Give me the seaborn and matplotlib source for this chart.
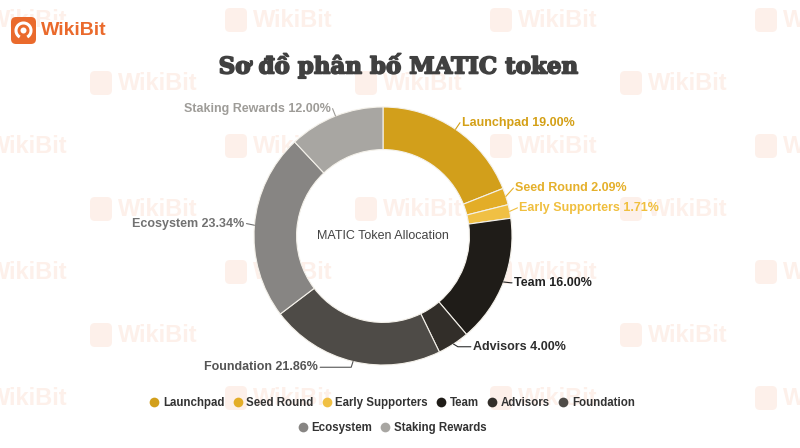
import numpy as np
import matplotlib
matplotlib.use("Agg")
import matplotlib.pyplot as plt
import matplotlib.patheffects as pe
import seaborn as sns
from matplotlib.patches import FancyBboxPatch, Arc, Circle
from matplotlib.lines import Line2D

# ---- data ----
categories = ["Launchpad", "Seed Round", "Early Supporters", "Team", "Advisors",
              "Foundation", "Ecosystem", "Staking Rewards"]
shares = [19.00, 2.09, 1.71, 16.00, 4.00, 21.86, 23.34, 12.00]
slice_colors = ["#d29f1b", "#e3ad27", "#f0c044", "#1f1c18", "#322e29",
                "#4e4b47", "#878583", "#a8a6a2"]
label_colors = ["#d4a017", "#e5b02b", "#f0bf3e", "#222222", "#2e2e2e",
                "#555555", "#727272", "#9e9c98"]
title = "Sơ đồ phân bố MATIC token"
center_label = "MATIC Token Allocation"
brand = "WikiBit"

sns.set_theme(style="white")
plt.rcParams["font.family"] = ["Liberation Sans", "DejaVu Sans"]

W, H = 800, 448
fig = plt.figure(figsize=(8, 4.48), dpi=100)
fig.patch.set_facecolor("white")
ax = fig.add_axes([0, 0, 1, 1])

# ---- faint watermark in the background ----
for r, yy in enumerate(range(20, H + 60, 63)):
    off = (r % 2) * 130 - 40
    for xx in range(off, W + 150, 265):
        ax.add_patch(FancyBboxPatch((xx, H - yy - 12), 22, 24,
                                    boxstyle="round,pad=0,rounding_size=5",
                                    fc="#fdf0ea", ec="none", zorder=0))
        ax.text(xx + 28, H - yy, brand, fontsize=17, color="#fdf0ea",
                va="center", ha="left", zorder=0, fontweight="bold")

# ---- logo ----
ax.add_patch(FancyBboxPatch((11, H - 44), 25, 27,
                            boxstyle="round,pad=0,rounding_size=5",
                            fc="#ea6a2c", ec="none", zorder=3))
ax.add_patch(Arc((23.5, H - 30.5), 15, 15, theta1=-60, theta2=240,
                 color="white", lw=2.2, zorder=4))
ax.add_patch(Circle((23.5, H - 30.5), 3, fc="white", ec="none", zorder=4))
ax.add_patch(FancyBboxPatch((40, H - 40), 80, 20,
                            boxstyle="round,pad=0,rounding_size=2",
                            fc="white", ec="none", zorder=3))
ax.text(41, H - 30, brand, fontsize=14, color="#ea6a2c", fontweight="bold",
        ha="left", va="center", zorder=4)

# ---- title ----
ax.text(398, H - 66, title, fontsize=16.5, fontweight="heavy", color="#404040",
        ha="center", va="center", family=["DejaVu Serif"], zorder=5,
        path_effects=[pe.withStroke(linewidth=1.2, foreground="#404040")])

# ---- donut ----
cx, cy, R = 383, H - 236, 129
wedges, _ = ax.pie(shares, colors=slice_colors, startangle=90, counterclock=False,
                   center=(cx, cy), radius=R, frame=True,
                   wedgeprops=dict(width=R * 0.33, edgecolor="#f4f1ea", linewidth=0.8))
for w in wedges:
    w.set_zorder(5)
ax.set_xlim(0, W)
ax.set_ylim(0, H)
ax.set_aspect("equal")
ax.axis("off")

ax.text(cx, cy, center_label, fontsize=9, color="#444444",
        ha="center", va="center", zorder=6)

# ---- labels with leader lines (leg length, vertical nudge per label) ----
legs = [0, 0, 0, 1, 13, 31, 0, 0]
nudges = [0, 6, 2, 2, 4, 2, 1, 0]
for w, cat, val, lc, leg, dy in zip(wedges, categories, shares, label_colors, legs, nudges):
    mid = np.deg2rad((w.theta1 + w.theta2) / 2)
    c, s = np.cos(mid), np.sin(mid)
    p0 = (cx + R * c, cy + R * s)
    p1 = (cx + (R + 8) * c, cy + (R + 8) * s + dy)
    sign = 1 if c >= 0 else -1
    p2 = (p1[0] + sign * leg, p1[1])
    ax.add_line(Line2D([p0[0], p1[0], p2[0]], [p0[1], p1[1], p2[1]],
                       color=lc, lw=0.8, zorder=6))
    ax.text(p2[0] + sign * 2, p2[1], f"{cat} {val:.2f}%", fontsize=9,
            fontweight="bold", color=lc, ha="left" if sign > 0 else "right",
            va="center", zorder=6)

# ---- legend ----
handles = [Line2D([], [], marker="o", ls="none", markersize=7,
                  markerfacecolor=col, markeredgecolor="none") for col in slice_colors]
kw = dict(frameon=False, handletextpad=0.3, columnspacing=0.7, handlelength=0.9,
          prop=dict(weight="bold", size=8.3), labelcolor="#333333", borderaxespad=0)
fig.legend(handles[:6], categories[:6], loc="center", ncol=6,
           bbox_to_anchor=(0.49, 1 - 403 / H), **kw)
fig.legend(handles[6:], categories[6:], loc="center", ncol=2,
           bbox_to_anchor=(0.49, 1 - 428 / H), **kw)

fig.savefig("out.png", dpi=100, facecolor="white")
